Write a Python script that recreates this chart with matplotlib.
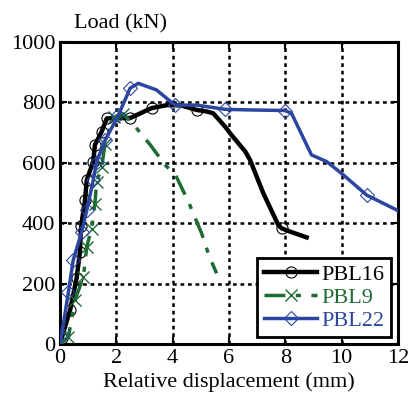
import matplotlib
matplotlib.use('Agg')
import matplotlib.pyplot as plt

plt.rcParams['font.family'] = 'serif'
plt.rcParams['font.serif'] = ['Liberation Serif', 'Times New Roman', 'DejaVu Serif']

# PBL16
x16 = [0, 0.06, 0.36, 0.59, 0.71, 0.75, 0.89, 0.95, 1.18, 1.24, 1.48, 1.66, 2.0, 2.49, 3.25, 3.8,
       4.3, 4.85, 5.2, 5.44, 5.86, 6.09, 6.58, 6.75, 7.22, 7.75, 7.87, 8.17, 8.76]
y16 = [0, 19, 113, 218, 306, 391, 477, 543, 604, 659, 703, 747, 748, 748, 781, 791,
       790, 775, 770, 764, 720, 692, 637, 609, 499, 394, 383, 372, 353]
m16 = [1, 2, 3, 4, 5, 6, 7, 8, 9, 10, 11, 13, 14, 17, 26]

# PBL9
x9 = [0, 0.3, 0.53, 0.83, 0.95, 1.12, 1.24, 1.3, 1.48, 1.6, 1.9, 2.25, 2.72, 3.2, 3.73, 4.1,
      4.56, 5.03, 5.3, 5.56]
y9 = [0, 24, 145, 222, 322, 382, 465, 536, 586, 663, 751, 762, 714, 660, 593, 560,
      471, 366, 290, 234]
m9 = [1, 2, 3, 4, 5, 6, 7, 8, 9, 10, 11]

# PBL22
x22 = [0, 0.06, 0.3, 0.47, 0.77, 0.95, 1.18, 1.3, 1.6, 2.07, 2.49, 2.78, 3.43, 4.08, 4.85,
       5.86, 6.75, 7.99, 8.22, 8.93, 9.47, 10.06, 10.89, 11.95, 12.0]
y22 = [0, 30, 173, 278, 371, 443, 542, 603, 674, 757, 847, 863, 841, 791, 791,
       777, 775, 773, 764, 626, 604, 560, 493, 444, 440]
m22 = [1, 2, 3, 4, 5, 6, 7, 8, 9, 10, 13, 15, 17, 22]

green = '#1e6b33'
blue = '#2b45a0'

fig = plt.figure(figsize=(4.09, 3.96), dpi=100)
ax = fig.add_axes([0.1467, 0.1313, 0.8263, 0.7627])

ax.plot(x16, y16, color='black', lw=3.2, marker='o', markevery=m16, ms=8,
        mfc='none', mec='black', mew=0.8, label='PBL16', zorder=3)
ax.plot(x9, y9, color=green, lw=2.5, ls=(0, (6, 3, 1.5, 3)), marker='x', markevery=m9,
        ms=8, mec=green, mew=1.0, label='PBL9', zorder=3)
ax.plot(x22, y22, color=blue, lw=2.5, marker='D', markevery=m22, ms=7,
        mfc='none', mec=blue, mew=0.8, label='PBL22', zorder=4)

ax.set_xlim(0, 12)
ax.set_ylim(0, 1000)
ax.set_xticks(range(0, 13, 2))
ax.set_yticks(range(0, 1001, 200))
ax.grid(True, color='black', ls=(0, (1.5, 1.5)), lw=1.8)
ax.tick_params(direction='in', length=5, width=1.5, labelsize=16, top=True, right=True)
for s in ax.spines.values():
    s.set_linewidth(2.2)

ax.set_xlabel('Relative displacement (mm)', fontsize=16, labelpad=3)
fig.text(0.18, 0.915, 'Load (kN)', fontsize=16, ha='left', va='bottom')

leg = ax.legend(loc='lower right', fontsize=16, frameon=True, fancybox=False,
                handlelength=2.4, borderpad=0.3, labelspacing=0.1, handletextpad=0.2,
                borderaxespad=0.3)
leg.get_frame().set_edgecolor('black')
leg.get_frame().set_linewidth(2)
leg.get_frame().set_alpha(1)
for t, c in zip(leg.get_texts(), ['black', green, blue]):
    t.set_color(c)

fig.savefig('out.png', dpi=100)
